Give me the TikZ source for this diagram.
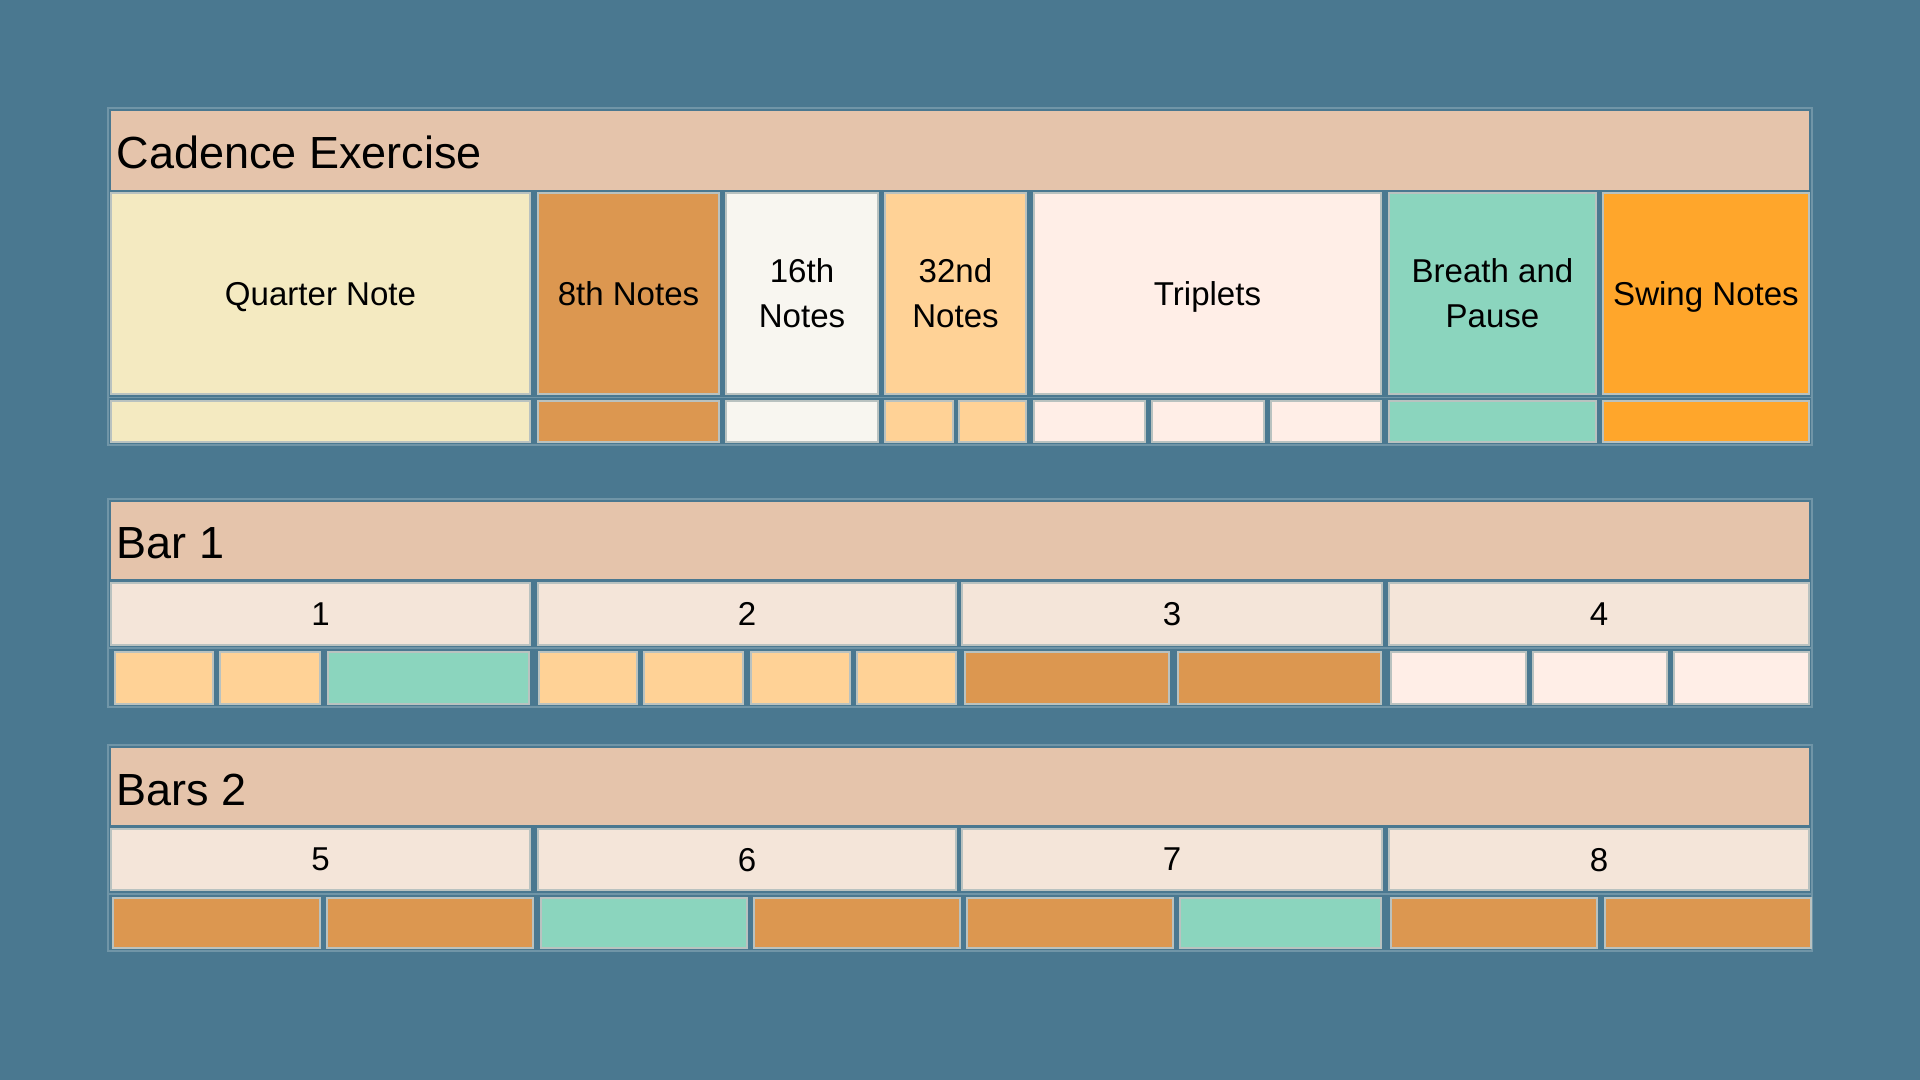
\documentclass[tikz,border=0pt]{standalone}
\usepackage{fontspec}
\setmainfont{Liberation Sans}
\definecolor{bgcol}{HTML}{4A7890}
\definecolor{headcol}{HTML}{E5C4AB}
\definecolor{beatcol}{HTML}{F4E5D9}
\definecolor{quartercol}{HTML}{F4EAC1}
\definecolor{eighthcol}{HTML}{DC9750}
\definecolor{sixteenthcol}{HTML}{F8F6F0}
\definecolor{thirtysecondcol}{HTML}{FFD296}
\definecolor{tripletcol}{HTML}{FFEEE7}
\definecolor{breathcol}{HTML}{8BD5BE}
\definecolor{swingcol}{HTML}{FFA62B}
\definecolor{edgecol}{HTML}{B9C2C0}
\definecolor{framecol}{HTML}{7095A7}
\begin{document}
\begin{tikzpicture}[x=0.01cm, y=-0.01cm]
	\tikzstyle{every node}+=[inner sep=0pt]
	\tikzstyle{box}=[draw=edgecol, line width=0.3pt]
	\tikzstyle{frame}=[draw=framecol, line width=0.3pt]
	\tikzstyle{barhead}=[fill=headcol]
	\tikzstyle{heading}=[anchor=base west, font=\fontsize{12.8}{15}\selectfont]
	\tikzstyle{cellname}=[align=center, text depth=0pt, font=\fontsize{9.4}{12.8}\selectfont]
	\fill [bgcol] (0,0) rectangle (1920,1080);
	% cadence exercise
	\draw [frame] (108,108) rectangle (1812,445);
	\fill [barhead] (111,111) rectangle (1809,190);
	\draw (116,169) node [heading] (cadence) {Cadence Exercise};
	\draw [box, fill=quartercol] (111,193) rectangle (530,394) node [midway, cellname] (quarter) {Quarter Note};
	\draw [box, fill=eighthcol] (538,193) rectangle (719,394) node [midway, cellname] (eighth) {8th Notes};
	\draw [box, fill=sixteenthcol] (726,193) rectangle (878,394) node [midway, cellname] (sixteenth) {16th\\Notes};
	\draw [box, fill=thirtysecondcol] (885,193) rectangle (1026,394) node [midway, cellname] (thirtysecond) {32nd\\Notes};
	\draw [box, fill=tripletcol] (1034,193) rectangle (1381,394) node [midway, cellname] (triplets) {Triplets};
	\draw [box, fill=breathcol] (1389,193) rectangle (1596,394) node [midway, cellname] (breath) {Breath and\\Pause};
	\draw [box, fill=swingcol] (1603,193) rectangle (1809,394) node [midway, cellname] (swing) {Swing Notes};
	\draw [frame] (108,397.5) -- (1812,397.5);
	\draw [box, fill=quartercol] (111,401) rectangle (530,442);
	\draw [box, fill=eighthcol] (538,401) rectangle (719,442);
	\draw [box, fill=sixteenthcol] (726,401) rectangle (878,442);
	\draw [box, fill=thirtysecondcol] (885,401) rectangle (953,442);
	\draw [box, fill=thirtysecondcol] (959,401) rectangle (1026,442);
	\draw [box, fill=tripletcol] (1034,401) rectangle (1145,442);
	\draw [box, fill=tripletcol] (1152,401) rectangle (1264,442);
	\draw [box, fill=tripletcol] (1271,401) rectangle (1381,442);
	\draw [box, fill=breathcol] (1389,401) rectangle (1596,442);
	\draw [box, fill=swingcol] (1603,401) rectangle (1809,442);
	% bar 1
	\draw [frame] (108,499) rectangle (1812,707);
	\fill [barhead] (111,502) rectangle (1809,579);
	\draw (116,559) node [heading] (barone) {Bar 1};
	\draw [box, fill=beatcol] (111,583) rectangle (530,645) node [midway, cellname] (beatone) {1};
	\draw [box, fill=beatcol] (538,583) rectangle (956,645) node [midway, cellname] (beattwo) {2};
	\draw [box, fill=beatcol] (962,583) rectangle (1382,645) node [midway, cellname] (beatthree) {3};
	\draw [box, fill=beatcol] (1389,583) rectangle (1809,645) node [midway, cellname] (beatfour) {4};
	\draw [frame] (108,648) -- (1812,648);
	\draw [box, fill=thirtysecondcol] (115,652) rectangle (213,704);
	\draw [box, fill=thirtysecondcol] (220,652) rectangle (320,704);
	\draw [box, fill=breathcol] (328,652) rectangle (529,704);
	\draw [box, fill=thirtysecondcol] (539,652) rectangle (637,704);
	\draw [box, fill=thirtysecondcol] (644,652) rectangle (743,704);
	\draw [box, fill=thirtysecondcol] (751,652) rectangle (850,704);
	\draw [box, fill=thirtysecondcol] (857,652) rectangle (956,704);
	\draw [box, fill=eighthcol] (965,652) rectangle (1169,704);
	\draw [box, fill=eighthcol] (1178,652) rectangle (1381,704);
	\draw [box, fill=tripletcol] (1391,652) rectangle (1526,704);
	\draw [box, fill=tripletcol] (1533,652) rectangle (1667,704);
	\draw [box, fill=tripletcol] (1674,652) rectangle (1809,704);
	% bars 2
	\draw [frame] (108,745) rectangle (1812,951);
	\fill [barhead] (111,748) rectangle (1809,825);
	\draw (116,806) node [heading] (bartwo) {Bars 2};
	\draw [box, fill=beatcol] (111,829) rectangle (530,890) node [midway, cellname] (beatfive) {5};
	\draw [box, fill=beatcol] (538,829) rectangle (956,890) node [midway, cellname] (beatsix) {6};
	\draw [box, fill=beatcol] (962,829) rectangle (1382,890) node [midway, cellname] (beatseven) {7};
	\draw [box, fill=beatcol] (1389,829) rectangle (1809,890) node [midway, cellname] (beateight) {8};
	\draw [frame] (108,894) -- (1812,894);
	\draw [box, fill=eighthcol] (113,898) rectangle (320,948);
	\draw [box, fill=eighthcol] (327,898) rectangle (533,948);
	\draw [box, fill=breathcol] (541,898) rectangle (747,948);
	\draw [box, fill=eighthcol] (754,898) rectangle (960,948);
	\draw [box, fill=eighthcol] (967,898) rectangle (1173,948);
	\draw [box, fill=breathcol] (1180,898) rectangle (1381,948);
	\draw [box, fill=eighthcol] (1391,898) rectangle (1597,948);
	\draw [box, fill=eighthcol] (1605,898) rectangle (1811,948);
\end{tikzpicture}
\end{document}
